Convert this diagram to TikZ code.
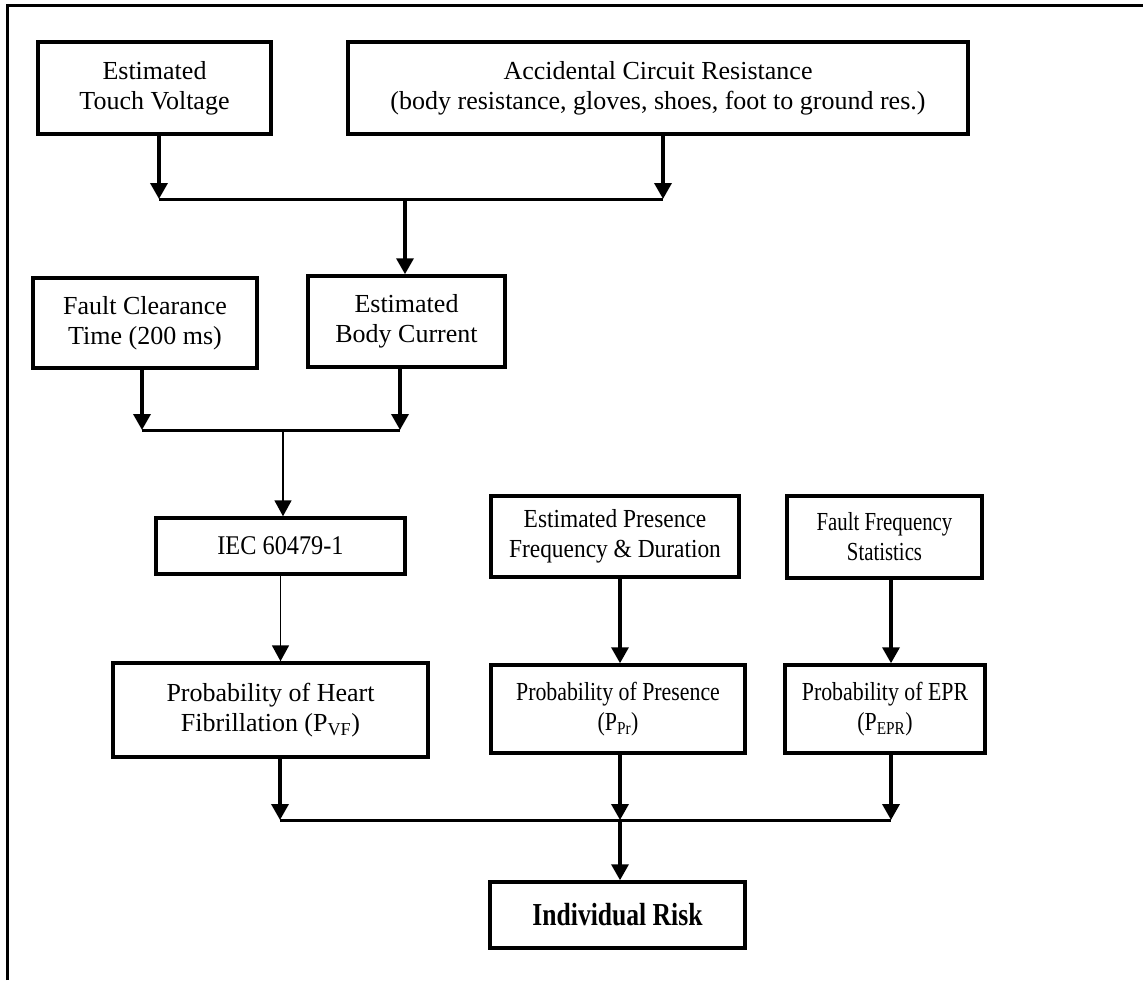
\documentclass[tikz,border=0pt]{standalone}
\usepackage{fontspec}
\setmainfont{Liberation Serif}
\newfontfamily\condA[FakeStretch=0.9]{Liberation Serif}
\newfontfamily\condB[FakeStretch=0.84]{Liberation Serif}
\newfontfamily\condC[FakeStretch=0.8]{Liberation Serif}
\usetikzlibrary{arrows.meta}
\begin{document}
\begin{tikzpicture}[x=1pt,y=-1pt,
  box/.style={draw, line width=3.5pt, inner sep=0pt, align=center, font=\fontsize{26}{30}\selectfont},
  arr/.style={line width=3.5pt, -{Triangle[width=17pt,length=16pt]}},
  thinarr/.style={line width=1.8pt, -{Triangle[width=17pt,length=16pt]}},
  wire/.style={line width=3pt},
  thinwire/.style={line width=1.8pt}]
\useasboundingbox (0,0) rectangle (1143,980);
\draw[line width=3pt] (7,980) -- (7,5) -- (1143,5);

\node[box, minimum width=233, minimum height=92] (tv) at (154.5,88) {Estimated\\Touch Voltage};
\node[box, minimum width=620, minimum height=92] (ac) at (658,88) {Accidental Circuit Resistance\\(body resistance, gloves, shoes, foot to ground res.)};
\node[box, minimum width=224, minimum height=90] (fc) at (145,323) {Fault Clearance\\Time (200 ms)};
\node[box, minimum width=197, minimum height=91] (bc) at (406.5,321.5) {Estimated\\Body Current};
\node[box, minimum width=249, minimum height=56, font=\fontsize{27}{30}\condA] (iec) at (280.5,546) {IEC 60479-1};
\node[box, minimum width=248, minimum height=81, font=\fontsize{26}{30}\condA] (pf) at (615,536.5) {Estimated Presence\\Frequency \& Duration};
\node[box, minimum width=195, minimum height=82, font=\fontsize{26}{30}\condC] (ff) at (884.5,537) {Fault Frequency\\Statistics};
\node[box, minimum width=315, minimum height=94] (hf) at (270.5,710) {Probability of Heart\\Fibrillation (P\textsubscript{VF})};
\node[box, minimum width=254, minimum height=88, font=\fontsize{26}{30}\condB] (pp) at (618,709) {Probability of Presence\\(P\textsubscript{Pr})};
\node[box, minimum width=200, minimum height=88, font=\fontsize{26}{30}\condB] (pe) at (885,709) {Probability of EPR\\(P\textsubscript{EPR})};
\node[box, minimum width=255, minimum height=66, font=\fontsize{32}{34}\condC\bfseries] (ir) at (617.5,915) {Individual Risk};

\coordinate (j1) at (405,199);
\coordinate (j2) at (283,430);
\coordinate (j3) at (620,820);

% first merge
\draw[arr] ([xshift=4.5pt]tv.south) -- ([xshift=4.5pt]tv.south |- j1);
\draw[arr] ([xshift=5pt]ac.south) -- ([xshift=5pt]ac.south |- j1);
\draw[wire] ([xshift=4.5pt]tv.south |- j1) -- ([xshift=5pt]ac.south |- j1);
\draw[arr] (j1) -- (j1 |- bc.north);

% second merge
\draw[arr] ([xshift=-3pt]fc.south) -- ([xshift=-3pt]fc.south |- j2);
\draw[arr] ([xshift=-6.5pt]bc.south) -- ([xshift=-6.5pt]bc.south |- j2);
\draw[wire] ([xshift=-3pt]fc.south |- j2) -- ([xshift=-6.5pt]bc.south |- j2);
\draw[thinarr] (j2) -- (j2 |- iec.north);
\draw[thinarr] (iec.south) -- (iec.south |- hf.north);

% right columns
\draw[arr] ([xshift=5pt]pf.south) -- ([xshift=5pt]pf.south |- pp.north);
\draw[arr] ([xshift=6.5pt]ff.south) -- ([xshift=6.5pt]ff.south |- pe.north);

% final merge
\draw[arr] ([xshift=9.5pt]hf.south) -- ([xshift=9.5pt]hf.south |- j3);
\draw[arr] ([xshift=2pt]pp.south) -- ([xshift=2pt]pp.south |- j3);
\draw[arr] ([xshift=6pt]pe.south) -- ([xshift=6pt]pe.south |- j3);
\draw[wire] ([xshift=9.5pt]hf.south |- j3) -- ([xshift=6pt]pe.south |- j3);
\draw[arr] (j3) -- (j3 |- ir.north);
\end{tikzpicture}
\end{document}
